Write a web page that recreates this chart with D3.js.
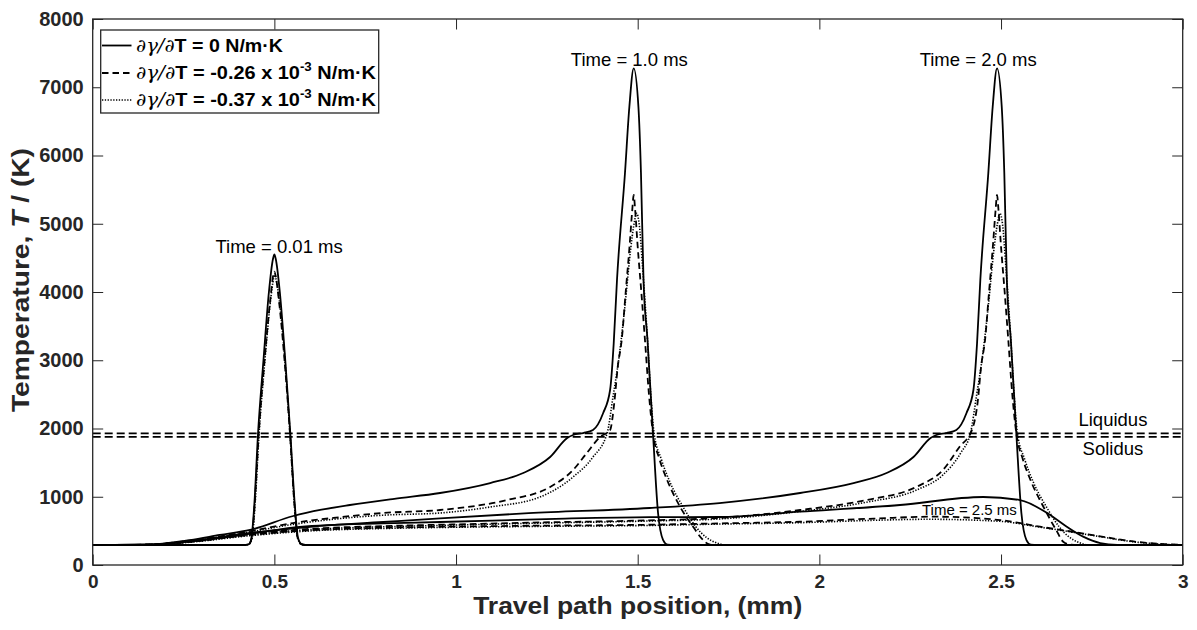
<!DOCTYPE html>
<html>
<head>
<meta charset="utf-8">
<script src="https://cdn.jsdelivr.net/npm/d3@7"></script>
<style>
  html, body { margin: 0; padding: 0; background: #fff; }
  svg { display: block; font-family: "Liberation Sans", Arial, sans-serif; }
</style>
</head>
<body>
<svg id="chart" width="1197" height="630"></svg>
<script>
// Temperature along the travel path, [position (mm), T (K)]
// Time = 0.01 ms
const t001Solid = [[0,293],[0.42,293],[0.43,305],[0.437,400],[0.445,900],[0.455,1923],[0.47,3000],[0.485,4000],[0.496,4480],[0.5,4550],[0.504,4480],[0.515,4000],[0.53,3000],[0.544,1923],[0.556,900],[0.565,400],[0.575,305],[0.585,293],[3,293]];
const t001Dashed = [[0,293],[0.42,293],[0.43,305],[0.438,400],[0.446,900],[0.457,1923],[0.473,3000],[0.489,3900],[0.497,4250],[0.5,4300],[0.503,4250],[0.512,3900],[0.528,3000],[0.543,1923],[0.555,900],[0.564,400],[0.574,305],[0.585,293],[3,293]];
const t001Dotted = [[0,293],[0.42,293],[0.43,305],[0.439,400],[0.447,900],[0.458,1923],[0.474,3000],[0.49,3900],[0.498,4200],[0.501,4250],[0.504,4200],[0.513,3900],[0.529,3000],[0.543,1923],[0.555,900],[0.564,400],[0.574,305],[0.585,293],[3,293]];
// Time = 1.0 ms
const t10Solid = [[0,293],[0.15,298],[0.268,366],[0.35,440],[0.433,513],[0.552,718],[0.63,810],[0.708,879],[0.83,970],[0.956,1055],[1.094,1201],[1.185,1348],[1.259,1582],[1.306,1861],[1.322,1905],[1.35,1934],[1.377,1978],[1.405,2227],[1.424,2564],[1.434,3250],[1.443,4176],[1.465,5744],[1.477,6711],[1.489,7278],[1.502,6711],[1.509,5744],[1.516,4176],[1.527,3297],[1.542,1934],[1.556,762],[1.57,366],[1.582,300],[1.6,293],[3,293]];
const t10Dashed = [[0,293],[0.15,298],[0.27,360],[0.433,495],[0.551,615],[0.68,700],[0.799,762],[0.956,806],[1.14,952],[1.259,1143],[1.322,1392],[1.36,1641],[1.396,1875],[1.424,1978],[1.436,2400],[1.445,2900],[1.456,3297],[1.467,4000],[1.478,4700],[1.485,5200],[1.489,5421],[1.493,5200],[1.4995,4700],[1.51,4000],[1.52,3297],[1.531,2500],[1.542,1934],[1.56,1550],[1.581,1245],[1.617,850],[1.653,557],[1.68,366],[1.695,305],[1.71,293],[3,293]];
const t10Dotted = [[0,293],[0.15,298],[0.27,355],[0.433,485],[0.551,595],[0.68,680],[0.799,730],[0.956,762],[1.094,850],[1.231,996],[1.322,1289],[1.377,1582],[1.416,1934],[1.432,2462],[1.45,3100],[1.465,3800],[1.48,4600],[1.49,5000],[1.497,5153],[1.504,5000],[1.513,4400],[1.527,3297],[1.536,2500],[1.545,1934],[1.565,1550],[1.59,1200],[1.625,850],[1.66,560],[1.69,400],[1.718,322],[1.745,293],[3,293]];
// Time = 2.0 ms
const t20Solid = [[0,293],[0.15,297],[0.27,350],[0.433,469],[0.6,560],[0.8,630],[0.956,684],[1.2,760],[1.533,835],[1.725,908],[1.947,1055],[2.094,1201],[2.185,1348],[2.259,1582],[2.306,1861],[2.322,1905],[2.35,1934],[2.377,1978],[2.405,2227],[2.424,2564],[2.434,3250],[2.443,4176],[2.465,5744],[2.477,6711],[2.489,7278],[2.502,6711],[2.509,5744],[2.516,4176],[2.527,3297],[2.542,1934],[2.556,762],[2.57,366],[2.582,300],[2.6,293],[3,293]];
const t20Dashed = [[0,293],[0.15,297],[0.27,345],[0.433,455],[0.6,530],[0.8,570],[0.956,590],[1.2,620],[1.533,655],[1.725,690],[1.947,806],[2.13,952],[2.268,1147],[2.34,1392],[2.386,1733],[2.42,1978],[2.436,2400],[2.445,2900],[2.456,3297],[2.467,4000],[2.478,4700],[2.485,5200],[2.489,5421],[2.493,5200],[2.4995,4700],[2.51,4000],[2.52,3297],[2.531,2500],[2.542,1934],[2.56,1550],[2.581,1245],[2.617,850],[2.653,500],[2.671,341],[2.69,300],[2.71,293],[3,293]];
const t20Dotted = [[0,293],[0.15,297],[0.27,340],[0.433,445],[0.6,520],[0.8,560],[0.956,580],[1.2,610],[1.533,645],[1.725,675],[1.947,785],[2.13,920],[2.268,1100],[2.34,1320],[2.39,1650],[2.416,1934],[2.432,2462],[2.45,3100],[2.465,3800],[2.48,4600],[2.49,5000],[2.497,5153],[2.504,5000],[2.513,4400],[2.527,3297],[2.536,2500],[2.545,1934],[2.565,1550],[2.59,1200],[2.625,850],[2.66,560],[2.69,400],[2.718,322],[2.745,293],[3,293]];
// Time = 2.5 ms
const t25Solid = [[0,293],[0.15,297],[0.3,360],[0.45,470],[0.57,560],[0.8,610],[0.956,630],[1.3,680],[1.533,700],[1.727,703],[1.947,781],[2.222,879],[2.451,996],[2.552,952],[2.635,733],[2.681,561],[2.726,415],[2.773,322],[2.82,296],[2.9,293],[3,293]];
const t25Dashed = [[0,293],[0.15,297],[0.27,340],[0.433,440],[0.6,510],[0.8,545],[0.956,560],[1.2,575],[1.533,590],[1.727,610],[1.947,634],[2.15,680],[2.313,708],[2.497,659],[2.607,561],[2.681,500],[2.773,420],[2.864,345],[2.95,305],[3,295]];
const t25Dotted = [[0,293],[0.15,297],[0.27,335],[0.433,430],[0.6,500],[0.8,535],[0.956,550],[1.2,565],[1.533,580],[1.727,600],[1.947,620],[2.15,655],[2.3,670],[2.497,640],[2.607,555],[2.681,495],[2.773,415],[2.864,340],[2.95,303],[3,295]];

// Phase-change temperatures (K)
const liquidusT = 1928;
const solidusT = 1878;

// Axis ticks
const xTickValues = [0, 0.5, 1, 1.5, 2, 2.5, 3];
const yTickValues = [0, 1000, 2000, 3000, 4000, 5000, 6000, 7000, 8000];

// Legend entries
const legendLabels = [
  { sym: "∂γ/∂", rest: "T = 0 N/m·K", sup: null, tail: null, style: "solid" },
  { sym: "∂γ/∂", rest: "T = -0.26 x 10", sup: "-3", tail: " N/m·K", style: "dashed" },
  { sym: "∂γ/∂", rest: "T = -0.37 x 10", sup: "-3", tail: " N/m·K", style: "dotted" }
];

(function draw() {
  const svg = d3.select("#chart");
  const pL = 92.7, pR = 1182.7, pT = 19, pB = 565;
  const x = d3.scaleLinear().domain([0, 3]).range([pL, pR]);
  const y = d3.scaleLinear().domain([0, 8000]).range([pB, pT]);
  const axisColor = "#262626";

  const styles = {
    solid:  { dash: null,      width: 1.8 },
    dashed: { dash: "6.5,4",   width: 1.8 },
    dotted: { dash: "1.3,1.5", width: 1.6 }
  };

  svg.append("defs").append("clipPath").attr("id", "plotClip")
    .append("rect").attr("x", pL).attr("y", pT)
    .attr("width", pR - pL).attr("height", pB - pT);

  const plot = svg.append("g").attr("clip-path", "url(#plotClip)");

  // Liquidus / solidus reference lines
  [liquidusT, solidusT].forEach(t => {
    plot.append("line")
      .attr("x1", x(0)).attr("x2", x(3))
      .attr("y1", y(t)).attr("y2", y(t))
      .attr("stroke", "#000").attr("stroke-width", 1.9)
      .attr("stroke-dasharray", "8,4");
  });

  const line = d3.line()
    .x(d => x(d[0])).y(d => y(d[1]))
    .curve(d3.curveMonotoneX);

  const series = [
    [t001Solid, "solid"], [t001Dashed, "dashed"], [t001Dotted, "dotted"],
    [t10Solid, "solid"], [t10Dashed, "dashed"], [t10Dotted, "dotted"],
    [t20Solid, "solid"], [t20Dashed, "dashed"], [t20Dotted, "dotted"],
    [t25Solid, "solid"], [t25Dashed, "dashed"], [t25Dotted, "dotted"]
  ];

  series.forEach(([data, s]) => {
    plot.append("path")
      .datum(data)
      .attr("d", line)
      .attr("fill", "none")
      .attr("stroke", "#000")
      .attr("stroke-width", styles[s].width)
      .attr("stroke-dasharray", styles[s].dash)
      .attr("stroke-linejoin", "round");
  });

  // Axes: ticks point inward on all four sides
  const tickLen = 10.5;
  function styleAxis(size) {
    return g => {
      g.select(".domain").remove();
      g.selectAll(".tick line").attr("stroke", axisColor).attr("stroke-width", 1);
      g.selectAll("text").attr("fill", axisColor)
        .style("font-family", "'Liberation Sans', Arial, sans-serif")
        .style("font-weight", "bold").style("font-size", size + "px");
    };
  }

  svg.append("g").attr("transform", `translate(0,${pB})`)
    .call(d3.axisBottom(x).tickValues(xTickValues).tickFormat(d3.format("")).tickSizeInner(-tickLen).tickSizeOuter(0).tickPadding(10))
    .call(styleAxis(19));
  svg.append("g").attr("transform", `translate(0,${pT})`)
    .call(d3.axisTop(x).tickValues(xTickValues).tickFormat("").tickSizeInner(-tickLen).tickSizeOuter(0))
    .call(styleAxis(19));
  svg.append("g").attr("transform", `translate(${pL},0)`)
    .call(d3.axisLeft(y).tickValues(yTickValues).tickFormat(d3.format("d")).tickSizeInner(-tickLen).tickSizeOuter(0).tickPadding(9))
    .call(styleAxis(20));
  svg.append("g").attr("transform", `translate(${pR},0)`)
    .call(d3.axisRight(y).tickValues(yTickValues).tickFormat("").tickSizeInner(-tickLen).tickSizeOuter(0))
    .call(styleAxis(20));

  // Plot box
  svg.append("rect")
    .attr("x", pL).attr("y", pT)
    .attr("width", pR - pL).attr("height", pB - pT)
    .attr("fill", "none").attr("stroke", axisColor).attr("stroke-width", 1.3);

  // Axis titles
  svg.append("text")
    .attr("x", x(1.5)).attr("y", 614)
    .attr("text-anchor", "middle")
    .attr("textLength", 329).attr("lengthAdjust", "spacingAndGlyphs")
    .attr("fill", axisColor)
    .style("font-weight", "bold").style("font-size", "24px")
    .text("Travel path position, (mm)");

  const yTitle = svg.append("text")
    .attr("transform", `translate(29,${(pT + pB) / 2 - 12}) rotate(-90)`)
    .attr("text-anchor", "middle")
    .attr("textLength", 264).attr("lengthAdjust", "spacingAndGlyphs")
    .attr("fill", axisColor)
    .style("font-weight", "bold").style("font-size", "23px");
  yTitle.append("tspan").text("Temperature,  ");
  yTitle.append("tspan").style("font-style", "italic").text("T");
  yTitle.append("tspan").text(" / (K)");

  // Annotations
  const annot = svg.append("g").attr("fill", "#000").attr("text-anchor", "middle");
  annot.append("text").attr("x", x(0.513)).attr("y", y(4571)).style("font-size", "18.5px").text("Time = 0.01 ms");
  annot.append("text").attr("x", x(1.477)).attr("y", y(7311)).style("font-size", "18.5px").text("Time = 1.0 ms");
  annot.append("text").attr("x", x(2.437)).attr("y", y(7311)).style("font-size", "18.5px").text("Time = 2.0 ms");
  annot.append("text").attr("x", x(2.413)).attr("y", y(733)).style("font-size", "15px").text("Time = 2.5 ms");
  annot.append("text").attr("x", x(2.808)).attr("y", y(2037)).style("font-size", "18.5px").text("Liquidus");
  annot.append("text").attr("x", x(2.808)).attr("y", y(1612)).style("font-size", "18.5px").text("Solidus");

  // Legend
  const lg = svg.append("g");
  lg.append("rect")
    .attr("x", 100.7).attr("y", 30).attr("width", 278).attr("height", 83)
    .attr("fill", "#fff").attr("stroke", axisColor).attr("stroke-width", 1.3);
  const rowY = [45.5, 73, 100];
  const rowWidth = [147, 240, 240];
  legendLabels.forEach((d, i) => {
    const yy = rowY[i];
    lg.append("line")
      .attr("x1", 102).attr("x2", 131.5).attr("y1", yy).attr("y2", yy)
      .attr("stroke", "#000").attr("stroke-width", styles[d.style].width)
      .attr("stroke-dasharray", styles[d.style].dash);
    const t = lg.append("text").attr("x", 136).attr("y", yy + 6)
      .attr("textLength", rowWidth[i]).attr("lengthAdjust", "spacingAndGlyphs")
      .attr("fill", "#000").style("font-size", "18px");
    t.append("tspan").style("font-family", "'DejaVu Serif', serif").style("font-style", "italic").text(d.sym);
    t.append("tspan").style("font-weight", "bold").text(d.rest);
    if (d.sup) {
      t.append("tspan").attr("dy", -8).style("font-weight", "bold").style("font-size", "12px").text(d.sup);
      t.append("tspan").attr("dy", 8).style("font-weight", "bold").text(d.tail);
    }
  });
})();
</script>
</body>
</html>
